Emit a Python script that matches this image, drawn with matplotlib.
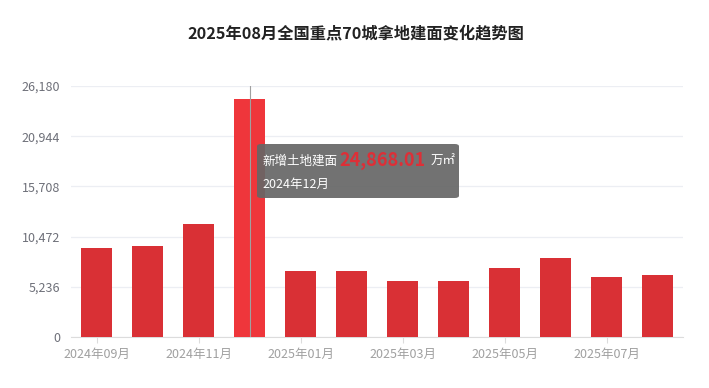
import matplotlib
matplotlib.use("Agg")
import matplotlib.pyplot as plt
from matplotlib.patches import FancyBboxPatch

plt.rcParams['font.family'] = ['Noto Sans CJK SC', 'DejaVu Sans']

# 数据
months = ['2024年09月', '2024年10月', '2024年11月', '2024年12月', '2025年01月', '2025年02月',
          '2025年03月', '2025年04月', '2025年05月', '2025年06月', '2025年07月', '2025年08月']
area = [9289, 9456, 11833, 24868.01, 6912, 6876, 5829, 5864, 7155, 8200, 6210, 6461]
yticks = [0, 5236, 10472, 15708, 20944, 26180]
hover_idx = 3

W, H = 709, 388
fig = plt.figure(figsize=(W / 100, H / 100), dpi=100)
ax = fig.add_axes([71 / W, 1 - 337 / H, (683 - 71) / W, (337 - 86) / H])

x = list(range(len(months)))
colors = ['#ef363b' if i == hover_idx else '#d93035' for i in x]
ax.bar(x, area, width=0.62, color=colors, zorder=3)

ax.set_xlim(-0.5, len(months) - 0.5)
ax.set_ylim(0, yticks[-1])
ax.set_yticks(yticks)
ax.set_yticklabels([f'{v:,}' for v in yticks], color='#6e7079', fontsize=9)
ax.yaxis.grid(True, color='#eceef3', linewidth=0.9, zorder=0)
ax.tick_params(axis='y', length=0, pad=8)

ax.set_xticks(x[::2])
ax.set_xticklabels(months[::2], color='#a0a0a0', fontsize=9)
ax.tick_params(axis='x', length=4, color='#dcdcdc', pad=4)

for s in ['top', 'right', 'left']:
    ax.spines[s].set_visible(False)
ax.spines['bottom'].set_color('#dcdcdc')

# 悬停竖线
ax.axvline(hover_idx, color='#a0a0a0', linewidth=0.8, zorder=4)

fig.text(356 / W, 1 - 33 / H, '2025年08月全国重点70城拿地建面变化趋势图',
         ha='center', va='center', fontsize=11.7, fontweight='bold', color='#222222')

# 提示框
box = FancyBboxPatch((257 / W, 1 - 198 / H), (459 - 257) / W, (198 - 144) / H,
                     boxstyle='round,pad=0,rounding_size=0.006', transform=fig.transFigure,
                     facecolor='#666666', alpha=0.92, edgecolor='none', zorder=10)
fig.patches.append(box)
fig.text(262 / W, 1 - 161 / H, '新增土地建面', color='white', fontsize=9, va='center', zorder=11)
fig.text(339 / W, 1 - 160 / H, f'{area[hover_idx]:,.2f}', color='#dd2f37', fontsize=13,
         fontweight='bold', va='center', zorder=11)
fig.text(431 / W, 1 - 161 / H, '万㎡', color='white', fontsize=9, va='center', zorder=11)
fig.text(262 / W, 1 - 184 / H, months[hover_idx], color='white', fontsize=9, va='center', zorder=11)

fig.savefig('out.png', dpi=100)
